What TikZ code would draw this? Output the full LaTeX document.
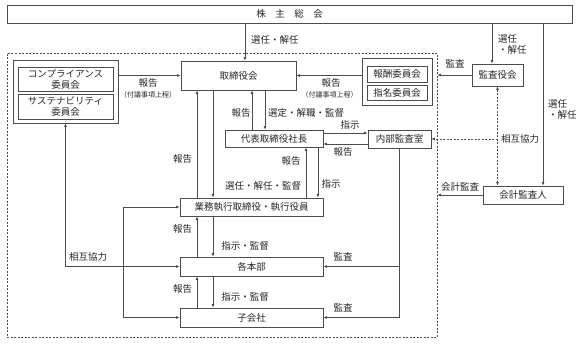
\documentclass[tikz,border=0pt]{standalone}
\usepackage{fontspec}
\setmainfont{Noto Sans CJK JP}
\usetikzlibrary{arrows.meta,positioning,calc}

\begin{document}
\begin{tikzpicture}[x=1pt, y=-1pt,
    font=\fontsize{9.5}{11}\selectfont, text=black!85,
    box/.style={draw=black!70, line width=0.8pt, inner sep=0pt, align=center},
    frame/.style={draw=black!70, line width=0.7pt, dash pattern=on 2pt off 1.5pt},
    ln/.style={draw=black!70, line width=0.8pt},
    arr/.style={ln, -{Latex[length=3.5pt,width=3pt]}},
    darr/.style={frame, {Latex[length=3.5pt,width=3pt]}-{Latex[length=3.5pt,width=3pt]}},
    lbl/.style={inner sep=0pt},
    small/.style={inner sep=0pt, font=\fontsize{7}{8}\selectfont}]
    \useasboundingbox (0,0) rectangle (580,343);
    \node[box, minimum width=565pt, minimum height=18pt] (soukai) at (289.5,14) {株　主　総　会};
    \node[frame, minimum width=430pt, minimum height=284pt] (inner) at (222,195) {};
    \node[box, minimum width=105pt, minimum height=63pt] (compl) at (65.5,91.5) {};
    \node[box, minimum width=95pt, minimum height=24pt] (compl1) at (65.5,79) {コンプライアンス\\委員会};
    \node[box, minimum width=95pt, minimum height=25pt] (compl2) at (65.5,106.5) {サステナビリティ\\委員会};
    \node[box, minimum width=115pt, minimum height=29pt] (torishimari) at (238.5,75.5) {取締役会};
    \node[box, minimum width=70pt, minimum height=47pt] (iinkai) at (397,81.5) {};
    \node[box, minimum width=60pt, minimum height=16pt] (houshu) at (397,74) {報酬委員会};
    \node[box, minimum width=60pt, minimum height=15pt] (shimei) at (397,92.5) {指名委員会};
    \node[box, minimum width=51pt, minimum height=22pt] (kansayaku) at (497.5,75) {監査役会};
    \node[box, minimum width=80pt, minimum height=18pt] (kaikei) at (523,195) {会計監査人};
    \node[box, minimum width=63pt, minimum height=18pt] (naibu) at (399.5,139) {内部監査室};
    \node[box, minimum width=98pt, minimum height=17pt] (shachou) at (274,138.5) {代表取締役社長};
    \node[box, minimum width=143pt, minimum height=18pt] (gyoumu) at (251.5,207) {業務執行取締役・執行役員};
    \node[box, minimum width=143pt, minimum height=19pt] (honbu) at (251.5,266.5) {各本部};
    \node[box, minimum width=143pt, minimum height=19pt] (kogaisha) at (251.5,317.5) {子会社};
    \coordinate (upA) at (197,0);
    \coordinate (dnA) at (213,0);
    \coordinate (upB) at (252,0);
    \coordinate (dnB) at (265,0);
    \coordinate (upC) at (306,0);
    \coordinate (dnC) at (318,0);
    \coordinate (side) at (123,0);
    \coordinate (toNaibu) at (0,133);
    \coordinate (toShachou) at (0,144);
    % shareholders and board
    \draw[arr] ([xshift=6.5pt]torishimari.north |- soukai.south) -- ([xshift=6.5pt]torishimari.north);
    \node[lbl, anchor=west] at (251,40) {選任・解任};
    \draw[arr] (compl.east |- torishimari.west) -- (torishimari.west);
    \node[lbl] at (148,83) {報告};
    \node[small] at (148,95) {（付議事項上程）};
    \draw[arr] (iinkai.west |- torishimari.east) -- (torishimari.east);
    \node[lbl] at (331,83) {報告};
    \node[small] at (329.5,95) {（付議事項上程）};
    \draw[arr] ([xshift=-5.5pt]kansayaku.north |- soukai.south) -- ([xshift=-5.5pt]kansayaku.north);
    \node[lbl, anchor=west, align=left] at (498,44.5) {選任\\・解任};
    \draw[arr] (kansayaku.west) -- (kansayaku.west -| inner.east);
    \node[lbl] at (455,64) {監査};
    \draw[arr] ([xshift=20pt]kaikei.north |- soukai.south) -- ([xshift=20pt]kaikei.north);
    \node[lbl, anchor=west, align=left] at (548,109) {選任\\・解任};
    % auditors
    \draw[darr] (kansayaku.south) -- (kansayaku.south |- kaikei.north);
    \coordinate (kyoryoku) at (kansayaku.south |- naibu.east);
    \draw[frame, -{Latex[length=3.5pt,width=3pt]}] (kyoryoku) -- (naibu.east);
    \node[lbl, anchor=west] at (501,139) {相互協力};
    \draw[arr] (kaikei.west) -- (kaikei.west -| inner.east);
    \node[lbl] at (460,187) {会計監査};
    % board, president, executives
    \draw[arr] (upA |- gyoumu.north) -- (upA |- torishimari.south);
    \draw[arr] (dnA |- torishimari.south) -- (dnA |- gyoumu.north);
    \node[lbl] at (182.5,159) {報告};
    \node[lbl] at (263,186) {選任・解任・監督};
    \draw[arr] (upB |- shachou.north) -- (upB |- torishimari.south);
    \draw[arr] (dnB |- torishimari.south) -- (dnB |- shachou.north);
    \node[lbl] at (241,113) {報告};
    \node[lbl, anchor=west] at (268,113) {選定・解職・監督};
    \draw[arr] (shachou.east |- toNaibu) -- (naibu.west |- toNaibu);
    \node[lbl] at (350,125) {指示};
    \draw[arr] (naibu.west |- toShachou) -- (shachou.east |- toShachou);
    \node[lbl] at (343,152) {報告};
    \draw[arr] (upC |- gyoumu.north) -- (upC |- shachou.south);
    \draw[arr] (dnC |- shachou.south) -- (dnC |- gyoumu.north);
    \node[lbl] at (291,161) {報告};
    \node[lbl] at (331,184) {指示};
    % departments and subsidiaries
    \draw[arr] (upA |- honbu.north) -- (upA |- gyoumu.south);
    \draw[arr] (dnA |- gyoumu.south) -- (dnA |- honbu.north);
    \node[lbl] at (182.5,229) {報告};
    \node[lbl] at (245,246) {指示・監督};
    \draw[arr] (upA |- kogaisha.north) -- (upA |- honbu.south);
    \draw[arr] (dnA |- honbu.south) -- (dnA |- kogaisha.north);
    \node[lbl] at (182.5,289) {報告};
    \node[lbl] at (245,297) {指示・監督};
    \draw[arr] (honbu.west -| compl.south) -- (compl.south);
    \draw[arr] (honbu.west -| compl.south) -- (honbu.west);
    \draw[arr] (side |- kogaisha.west) -- (side |- gyoumu.west) -- (gyoumu.west);
    \draw[arr] (side |- honbu.west) -- (side |- kogaisha.west) -- (kogaisha.west);
    \node[lbl] at (88,257) {相互協力};
    \draw[ln] (naibu.south) -- (naibu.south |- kogaisha.east);
    \draw[arr] (naibu.south |- honbu.east) -- (honbu.east);
    \draw[arr] (naibu.south |- kogaisha.east) -- (kogaisha.east);
    \node[lbl] at (343,257) {監査};
    \node[lbl] at (343,308) {監査};
\end{tikzpicture}
\end{document}
